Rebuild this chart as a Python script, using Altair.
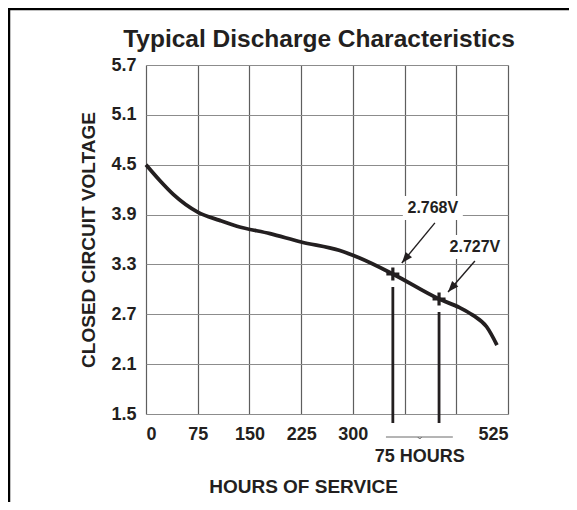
import math
import altair as alt
import pandas as pd

# ---- data ----
hours = [0, 20, 40, 75, 107, 132, 180, 225, 280, 309, 358, 425, 455, 474, 494, 509]
volts = [4.50, 4.31, 4.14, 3.93, 3.83, 3.76, 3.67, 3.57, 3.47, 3.38, 3.185, 2.884, 2.78, 2.69, 2.55, 2.33]

marker_hours = [358, 425]
marker_volts = [3.185, 2.884]

label_text = ["2.768V", "2.727V"]
label_hours = [416, 477]
label_volts = [3.98, 3.51]
arrow_from_hours = [419, 477]
arrow_from_volts = [3.80, 3.341]
arrow_to_hours = [371, 438]
arrow_to_volts = [3.317, 2.968]

x_ticks = [0, 75, 150, 225, 300, 375, 450, 525]
x_hidden = [375, 450]
y_ticks = [1.5, 2.1, 2.7, 3.3, 3.9, 4.5, 5.1, 5.7]

bracket_hours = [348, 445]
bracket_center = [397]
bracket_text = ["75 HOURS"]

title_text = "Typical Discharge Characteristics"
x_title = "HOURS OF SERVICE"
y_title = "CLOSED CIRCUIT VOLTAGE"

# ---- layout / style ----
W, H = 362, 349
X_DOM = [0, 525]
Y_DOM = [1.5, 5.7]
FONT = "Liberation Sans"
INK = "#231f20"

xs = alt.Scale(domain=X_DOM, nice=False, zero=False)
ys = alt.Scale(domain=Y_DOM, nice=False, zero=False)

hidden_expr = " || ".join(f"datum.value == {v}" for v in x_hidden)

curve_df = pd.DataFrame({"h": hours, "v": volts})
mk_df = pd.DataFrame({"h": marker_hours, "v": marker_volts})

# arrow head angles (screen space)
angles = []
for fh, fv, th, tv in zip(arrow_from_hours, arrow_from_volts, arrow_to_hours, arrow_to_volts):
    dx = (th - fh) / (X_DOM[1] - X_DOM[0]) * W
    dy = -(tv - fv) / (Y_DOM[1] - Y_DOM[0]) * H
    angles.append(math.degrees(math.atan2(dx, -dy)) % 360)

ann_df = pd.DataFrame({
    "t": label_text, "lh": label_hours, "lv": label_volts,
    "fh": arrow_from_hours, "fv": arrow_from_volts,
    "th": arrow_to_hours, "tv": arrow_to_volts, "ang": angles,
})

base = alt.Chart(curve_df).mark_line(
    color=INK, strokeWidth=3.8, interpolate="monotone"
).encode(
    x=alt.X("h:Q", scale=xs, axis=alt.Axis(
        values=x_ticks, grid=True, gridColor="#5e5e5e", gridWidth=1.2,
        ticks=False, domain=False, labelFont=FONT, labelFontSize=18,
        labelFontWeight="bold", labelColor=INK, labelPadding=11,
        labelExpr=f"({hidden_expr}) ? '' : datum.label",
        title=x_title, titleFont=FONT, titleFontSize=19, titleFontWeight="bold",
        titleColor=INK, titleX=157, titleY=72, titleAlign="center",
        titleBaseline="middle")),
    y=alt.Y("v:Q", scale=ys, axis=alt.Axis(
        values=y_ticks, format=".1f", grid=True, gridColor="#8c8c8c",
        gridWidth=1.2, ticks=False, domain=False, labelFont=FONT,
        labelFontSize=18, labelFontWeight="bold", labelColor=INK,
        labelPadding=10, title=y_title, titleFont=FONT, titleFontSize=19,
        titleFontWeight="bold", titleColor=INK, titleX=-58, titleY=174.5,
        titleAngle=270, titleAlign="center", titleBaseline="middle")),
)

boxes = alt.Chart(ann_df).mark_rect(
    color="white", xOffset=-30, x2Offset=30, yOffset=-12, y2Offset=12
).encode(x="lh:Q", x2="lh:Q", y="lv:Q", y2="lv:Q")

drops = alt.Chart(mk_df).mark_rule(color=INK, strokeWidth=2.8, yOffset=13).encode(
    x="h:Q", y="v:Q", y2=alt.value(H + 9))

crosses = alt.Chart(mk_df).mark_point(
    shape="M-1,0L1,0M0,-1L0,1", size=169, filled=False, color=INK,
    strokeWidth=3.2, opacity=1
).encode(x="h:Q", y="v:Q")

shafts = alt.Chart(ann_df).mark_rule(color=INK, strokeWidth=1.4).encode(
    x="fh:Q", y="fv:Q", x2="th:Q", y2="tv:Q")

heads = alt.Chart(ann_df).mark_point(
    shape="M0,0L0.75,2L-0.75,2Z", size=121, filled=True, color=INK, opacity=1
).encode(x="th:Q", y="tv:Q", angle=alt.Angle("ang:Q", scale=None))

labels = alt.Chart(ann_df).mark_text(
    font=FONT, fontSize=16, fontWeight="bold", color=INK, baseline="middle"
).encode(x="lh:Q", y="lv:Q", text="t:N")

br_df = pd.DataFrame({"a": [bracket_hours[0]], "b": [bracket_hours[1]]})
bracket = alt.Chart(br_df).mark_rule(color="#6a6a6a", strokeWidth=1).encode(
    x="a:Q", x2="b:Q", y=alt.value(H + 23))
notch_df = pd.DataFrame({"c": bracket_center})
notch = alt.Chart(notch_df).mark_point(
    shape="M-1,-0.5L0,0.5L1,-0.5", size=16, filled=False, color="#6a6a6a",
    strokeWidth=1, opacity=1
).encode(x="c:Q", y=alt.value(H + 24))
br_text = alt.Chart(pd.DataFrame({"c": bracket_center, "t": bracket_text})).mark_text(
    font=FONT, fontSize=18, fontWeight="bold", color=INK, baseline="middle"
).encode(x="c:Q", y=alt.value(H + 43), text="t:N")

title = alt.Chart(pd.DataFrame({"t": [title_text]})).mark_text(
    font=FONT, fontSize=24.5, fontWeight="bold", color=INK, baseline="middle"
).encode(x=alt.value(173), y=alt.value(-25), text="t:N")

one = pd.DataFrame({"k": [0]})
frame_left = alt.Chart(one).mark_rule(color="black", strokeWidth=2.5).encode(
    x=alt.value(-137), y=alt.value(-57), y2=alt.value(H + 90))
frame_top = alt.Chart(one).mark_rule(color="black", strokeWidth=2.5).encode(
    y=alt.value(-56), x=alt.value(-138), x2=alt.value(W + 62))

chart = alt.layer(
    boxes, base, drops, crosses, shafts, heads, labels,
    bracket, notch, br_text, title, frame_left, frame_top
).properties(
    width=W, height=H, autosize="none",
    padding={"left": 138, "top": 57, "right": 61, "bottom": 88},
).configure_view(
    stroke=INK, strokeWidth=2.5
).configure(background="white")

chart.save("out.html", embed_options={"renderer": "svg", "actions": False})
